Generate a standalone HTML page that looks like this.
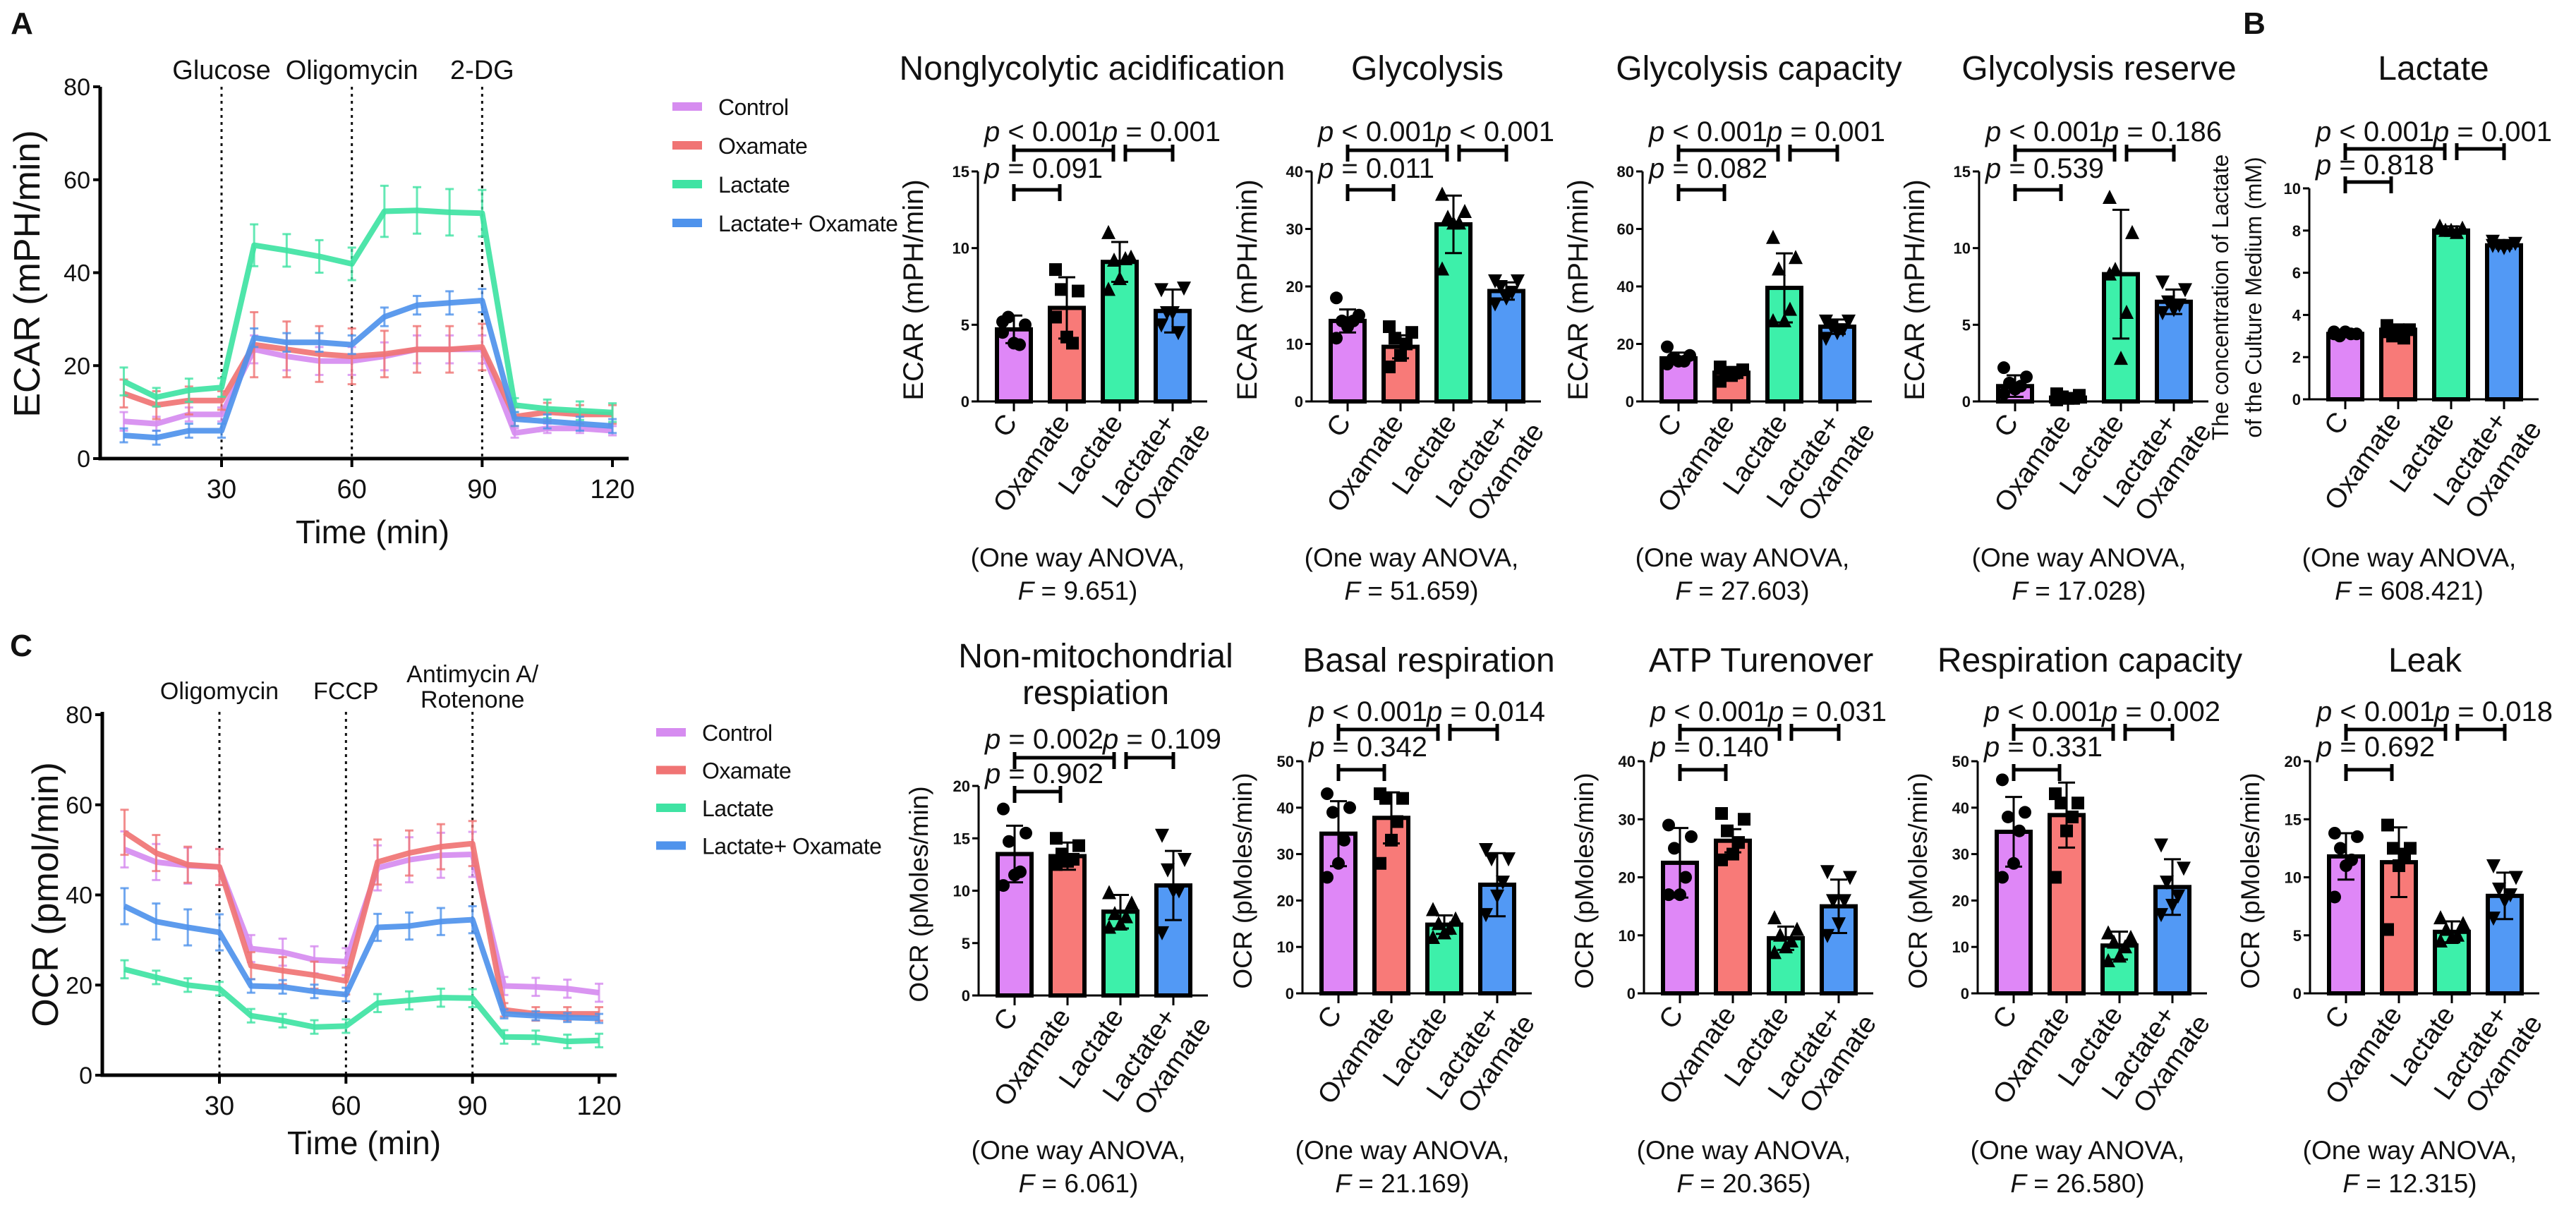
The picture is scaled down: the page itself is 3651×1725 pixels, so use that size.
<!DOCTYPE html>
<html><head><meta charset="utf-8">
<style>
html,body{margin:0;padding:0;background:#fff;}
svg{display:block;font-family:"Liberation Sans",Arial,sans-serif;}
</style></head>
<body>
<svg id="fig" width="3651" height="1725" viewBox="0 0 3651 1725" xmlns="http://www.w3.org/2000/svg"></svg>
<script>
// ---------- line-chart data ----------
const timePoints=[7.5,15,22.5,30,37.5,45,52.5,60,67.5,75,82.5,90,97.5,105,112.5,120];
const seriesNames=['Control','Oxamate','Lactate','Lactate+ Oxamate'];
const ecarControl=[8,7.5,9.5,9.5,23.5,22,21,21,22,23.5,23.5,23.5,5.5,6.5,6.5,6];
const ecarOxamate=[14,11.5,12.5,12.5,24.5,23.5,22.5,22,22.5,23.5,23.5,24,9,10,9.5,9.5];
const ecarLactate=[16.6,13.2,14.7,15.3,45.9,44.8,43.5,41.9,53.2,53.4,53,52.8,11.5,10.7,10.3,9.9];
const ecarLacOx=[5,4.5,6,6,26,25,25,24.5,30.5,33,33.5,34,8.5,8,7.5,7];
const ecarErrControl=[2,1.5,1.5,1.5,3,3,3,3,3,3,3,3,1,1,1,1];
const ecarErrOxamate=[3,3,3,2,7,6,6,6,5,5,5,5,2,2,2,2];
const ecarErrLactate=[3,2,2.5,2,4.5,3.5,3.5,3.5,5.5,5,5,5,1.5,2,2,2];
const ecarErrLacOx=[1.5,1.5,1.5,1.5,2,2,2,2,2,2,2.5,2.5,1.5,1.5,1.5,1.5];
const ocrControl=[50.1,47.3,46.5,46.2,28.1,27.3,25.6,25.2,46,47.8,48.8,49,19.8,19.6,19.2,18.3];
const ocrOxamate=[53.9,49.3,46.7,46.2,24.3,23.2,22.2,20.9,47.3,49.3,50.7,51.4,14.5,13.6,13.6,13.6];
const ocrLactate=[23.5,21.7,20,19.2,13.2,12.1,10.7,10.9,16,16.6,17.2,17.1,8.5,8.4,7.5,7.7];
const ocrLacOx=[37.5,34.1,32.8,31.7,19.8,19.6,18.6,17.9,32.8,33.1,34.1,34.5,13.6,13.2,12.8,12.6];
const ocrErrControl=[4,4,4,4,3,3,3,3,5,5,5,5,2,2,2,2];
const ocrErrOxamate=[5,4,4,4,3,3,3,3,5,5,5,5,1.5,1.5,1.5,1.5];
const ocrErrLactate=[2,1.5,1.5,1.5,1.5,1.5,1.5,1.5,2,2,2,2,1.5,1.5,1.5,1.5];
const ocrErrLacOx=[4,4,4,4,1.5,1.5,1.5,1.5,3,3,3,3,1,1,1,1];
const lineYTicks=[0,20,40,60,80];
const lineXTicks=[30,60,90,120];

// ---------- bar-chart data ----------
const categories=['C','Oxamate','Lactate','Lactate+|Oxamate'];
const ngMeans=[4.7,6.1,9.1,5.9], ngErr=[0.9,2.0,1.3,1.4];
const ngPts=[[5.2,5.0,5.5,3.7,3.8,4.5],[8.6,7.2,7.3,3.8,4.2,5.5],[11.0,9.4,9.2,9.3,8.0,7.3],[7.3,7.4,5.8,4.5,5.8,5.0]];
const glyMeans=[14,9.5,30.8,19.2], glyErr=[2,2,5,1.5];
const glyPts=[[18,15,14,14,13,11],[13,12,11,10,8,6],[36,33,32,31,31,23],[21,21,20,19,18,17]];
const capMeans=[15,10,39.5,26], capErr=[2,2,12,2.5];
const capPts=[[19,16,15,14,14,13],[12,11,10,10,9,7],[57,50,46,32,28,28],[28,28,26,25,24,22]];
const resMeans=[1.0,0.25,8.3,6.5], resErr=[0.7,0.2,4.2,0.8];
const resPts=[[2.2,1.6,1.2,1.0,0.8,0.5],[0.5,0.4,0.3,0.2,0.2,0.1],[13.3,11.0,8.6,5.8,2.8,8.3],[7.8,7.3,6.5,6.3,6.0,5.8]];
const lacMeans=[3.1,3.3,8.0,7.3], lacErr=[0.1,0.2,0.2,0.15];
const lacPts=[[3.2,3.1,3.0,3.1,3.2,3.1],[3.5,3.3,3.0,2.9,3.3,3.2],[8.2,8.1,8.0,7.9,8.0,8.1],[7.5,7.4,7.3,7.3,7.2,7.3]];
const nmMeans=[13.5,13.3,8.0,10.5], nmErr=[2.7,1.3,1.6,3.3];
const nmPts=[[17.8,15.5,14.7,11.8,11.5,10.5],[15,14.3,13.5,13,12.8,12.5],[9.8,8.8,7.8,7.5,6.8,6.5],[15.3,13,12,10,10,6]];
const basalMeans=[34.4,37.8,14.8,23.4], basalErr=[7,5.5,2,6.8];
const basalPts=[[43,40,39,33,28,25],[43,42,42,37,33,28],[18,16,15,14,13,12],[31,29,29,24,21,17]];
const atpMeans=[22.5,26.3,9.5,15], atpErr=[6,2,2,4.6];
const atpPts=[[29,27,25,20,17,17],[31,30,28,26,24,23],[13,11,10,9,8,7],[21,20,16,16,12,10]];
const rcMeans=[34.8,38.4,10.3,22.9], rcErr=[7.5,7,3,6];
const rcPts=[[46,39,38,35,28,25],[43,41,41,38,35,25],[13,12,11,10,8,7],[32,27,24,21,19,17]];
const leakMeans=[11.8,11.3,5.3,8.4], leakErr=[2,3,0.9,2];
const leakPts=[[13.8,13.5,12.5,11.5,11,8.3],[14.5,12.5,12.5,12,11,5.5],[6.5,6,5.5,5,4.8,4.5],[11,10,9,8.5,8,6.5]];

const ticks15=[0,5,10,15], ticks40=[0,10,20,30,40], ticks80=[0,20,40,60,80], ticks10=[0,2,4,6,8,10], ticks20=[0,5,10,15,20], ticks50=[0,10,20,30,40,50];

// ---------- drawing ----------
const NS='http://www.w3.org/2000/svg';
const svg=document.getElementById('fig');
const lineColors=['#d68cf0','#f07474','#3fe3a3','#4f93ec'];
const barColors=['#df87f7','#f87a78','#3df0aa','#5299f5'];
function mk(tag,attrs,parent){const e=document.createElementNS(NS,tag);for(const k in attrs)e.setAttribute(k,attrs[k]);(parent||svg).appendChild(e);return e;}
function txt(s,x,y,size,opts,parent){opts=opts||{};const e=mk('text',{x:x,y:y,'font-size':size,'text-anchor':opts.anchor||'middle',fill:'#111','font-weight':opts.bold?'bold':'normal'},parent);if(opts.transform)e.setAttribute('transform',opts.transform);e.textContent=s;return e;}

function panelLetter(s,x,y){const t=txt(s,x,y,44,{bold:true});

}
panelLetter('A',31,48);panelLetter('B',3195,48);panelLetter('C',30,930);

function lineChart(id,c,vals,errs){
  const g=mk('g',{});
  
  
  const px=t=>c.x30+(t-30)*c.sx, py=v=>c.y0-v*c.sy;
  c.events.forEach((ev,i)=>{
    const l=mk('line',{x1:px(ev.t),x2:px(ev.t),y1:c.yTop,y2:c.y0,stroke:'#111','stroke-width':3,'stroke-dasharray':'4 6'},g);
    
    
    ev.lines.forEach((s,j)=>{const t=txt(s,px(ev.t),ev.y+j*36,c.evSize,{},g);
      
      });
  });
  vals.forEach((arr,si)=>{
    const sg=mk('g',{},g);
    
    
    arr.forEach((v,i)=>{const x=px(timePoints[i]),e=errs[si][i];
      mk('line',{x1:x,x2:x,y1:py(v-e),y2:py(v+e),stroke:lineColors[si],'stroke-width':3,opacity:0.8},sg);
      mk('line',{x1:x-6,x2:x+6,y1:py(v+e),y2:py(v+e),stroke:lineColors[si],'stroke-width':3,opacity:0.8},sg);
      mk('line',{x1:x-6,x2:x+6,y1:py(v-e),y2:py(v-e),stroke:lineColors[si],'stroke-width':3,opacity:0.8},sg);});
    const d=arr.map((v,i)=>(i?'L':'M')+px(timePoints[i]).toFixed(1)+' '+py(v).toFixed(1)).join(' ');
    const p=mk('path',{d:d,fill:'none',stroke:lineColors[si],'stroke-width':8,'stroke-linejoin':'round',opacity:0.92},sg);
    
    
  });
  const ax=mk('path',{d:`M${c.xStart} ${c.yTop} V${c.y0} H${c.xEnd}`,fill:'none',stroke:'#000','stroke-width':5},g);
  
  
  lineYTicks.forEach(v=>{mk('line',{x1:c.xStart-10,x2:c.xStart,y1:py(v),y2:py(v),stroke:'#000','stroke-width':4},g);
    const t=txt(String(v),c.xStart-14,py(v)+12,34,{anchor:'end'},g);
    
    });
  lineXTicks.forEach(v=>{mk('line',{x1:px(v),x2:px(v),y1:c.y0,y2:c.y0+12,stroke:'#000','stroke-width':4},g);
    const t=txt(String(v),px(v),c.y0+56,38,{},g);
    
    });
  const xt=txt('Time (min)',c.xTitleX,c.xTitleY,46,{},g);
  
  
  const yt=txt(c.yTitle,0,0,52,{transform:`translate(${c.yTitleX},${c.yTitleY}) rotate(-90)`},g);
  
  
  seriesNames.forEach((n,i)=>{const y=c.legY+i*c.legStep;
    const lg=mk('g',{},g);
    
    
    mk('rect',{x:c.legX,y:y-6,width:42,height:12,fill:lineColors[i]},lg);
    const lt=txt(n,c.legX+65,y+12,32,{anchor:'start'},lg);
    lt.setAttribute('letter-spacing','-0.5');});
}
lineChart('ecar',{x30:314,sx:6.156,y0:650,sy:6.5875,yTop:123,xStart:142,xEnd:891,xTitleX:528,xTitleY:770,yTitle:'ECAR (mPH/min)',yTitleX:56,yTitleY:388,legX:953,legY:151,legStep:55,evSize:38,
  events:[{t:30,y:112,lines:['Glucose']},{t:60,y:112,lines:['Oligomycin']},{t:90,y:112,lines:['2-DG']}]},
  [ecarControl,ecarOxamate,ecarLactate,ecarLacOx],[ecarErrControl,ecarErrOxamate,ecarErrLactate,ecarErrLacOx]);
lineChart('ocr',{x30:311,sx:5.978,y0:1524,sy:6.3875,yTop:1009,xStart:145,xEnd:874,xTitleX:516,xTitleY:1636,yTitle:'OCR (pmol/min)',yTitleX:82,yTitleY:1268,legX:930,legY:1038,legStep:53.5,evSize:34,
  events:[{t:30,y:991,lines:['Oligomycin']},{t:60,y:991,lines:['FCCP']},{t:90,y:967,lines:['Antimycin A/','Rotenone']}]},
  [ocrControl,ocrOxamate,ocrLactate,ocrLacOx],[ocrErrControl,ocrErrOxamate,ocrErrLactate,ocrErrLacOx]);

function marker(shape,x,y,g){
  const s=9;let e;
  if(shape===0)e=mk('circle',{cx:x,cy:y,r:s},g);
  else if(shape===1)e=mk('rect',{x:x-s,y:y-s,width:2*s,height:2*s},g);
  else if(shape===2)e=mk('polygon',{points:`${x},${y-s-2} ${x-s-1},${y+s} ${x+s+1},${y+s}`},g);
  else e=mk('polygon',{points:`${x},${y+s+2} ${x-s-1},${y-s} ${x+s+1},${y-s}`},g);
  e.setAttribute('fill','#000');
}
const jit=[-16,16,-8,8,0,-16];
function barChart(id,c,means,errs,pts){
  const g=mk('g',{});
  
  
  const max=c.ticks[c.ticks.length-1];
  const py=v=>c.y0-(v/max)*(c.y0-c.yTop);
  const cx=i=>c.ax+51+i*75;
  c.title.forEach((s,j)=>{const t=txt(s,c.titleX,c.titleY+j*52,48,{},g);
    
    });
  means.forEach((m,i)=>{
    const b=mk('rect',{x:cx(i)-24,y:py(m),width:48,height:c.y0-py(m),fill:barColors[i],stroke:'#000','stroke-width':6},g);
    
    
  });
  pts.forEach((arr,i)=>arr.forEach((v,k)=>marker(i,cx(i)+jit[k],py(v),g)));
  means.forEach((m,i)=>{const x=cx(i),e=errs[i];
    mk('line',{x1:x,x2:x,y1:py(m+e),y2:py(Math.max(0,m-e)),stroke:'#000','stroke-width':3},g);
    mk('line',{x1:x-12,x2:x+12,y1:py(m+e),y2:py(m+e),stroke:'#000','stroke-width':3},g);
    mk('line',{x1:x-12,x2:x+12,y1:py(Math.max(0,m-e)),y2:py(Math.max(0,m-e)),stroke:'#000','stroke-width':3},g);});
  const ax=mk('path',{d:`M${c.ax} ${c.yTop} V${c.y0} H${c.ax+325}`,fill:'none',stroke:'#000','stroke-width':3},g);
  
  
  c.ticks.forEach(v=>{mk('line',{x1:c.ax-9,x2:c.ax,y1:py(v),y2:py(v),stroke:'#000','stroke-width':3},g);
    const t=txt(String(v),c.ax-12,py(v)+8,22,{anchor:'end',bold:true},g);
    
    });
  categories.forEach((s,i)=>{const x=cx(i);
    mk('line',{x1:x,x2:x,y1:c.y0,y2:c.y0+14,stroke:'#000','stroke-width':3},g);
    const parts=s.split('|');
    const t=mk('text',{transform:`translate(${x+6},${c.y0+30}) rotate(-55)`,'font-size':39,'text-anchor':'end',fill:'#111'},g);
    
    
    parts.forEach((p,j)=>{const ts=mk('tspan',{x:j?18:0,dy:j?'47':'0'},t);ts.textContent=p;});
  });
  c.ylabel.forEach((s,j)=>{const t=txt(s,0,0,c.ylSize,{transform:`translate(${c.ax-c.ylOff+j*47},${(c.y0+c.yTop)/2+5}) rotate(-90)`},g);
    
    });
  const pl=(s,x,y)=>{const t=mk('text',{x:x,y:y,'font-size':40,fill:'#111'},g);
    const a=mk('tspan',{'font-style':'italic'},t);a.textContent='p';
    const b=mk('tspan',{},t);b.textContent=' '+s;
    
    };
  pl(c.p[0],c.ax+9,c.pY[0]+14);
  pl(c.p[1],cx(2)-25,c.pY[0]+14);
  pl(c.p[2],c.ax+9,c.pY[2]+14);
  const br=(x1,x2,y)=>{const b=mk('path',{d:`M${x1} ${y} H${x2} M${x1} ${y-8} V${y+16} M${x2} ${y-8} V${y+16}`,stroke:'#000','stroke-width':5,fill:'none'},g);
    
    };
  br(cx(0),cx(2)-9,c.pY[1]);
  br(cx(2)+8,cx(3),c.pY[1]);
  br(cx(0),cx(1)-10,c.pY[3]);
  const mid=(cx(0)+cx(3))/2-22;
  const a1=txt('(One way ANOVA,',mid,c.anY,37,{},g);
  
  
  const a2=mk('text',{x:mid,y:c.anY+47,'font-size':37,'text-anchor':'middle',fill:'#111'},g);
  
  
  const f=mk('tspan',{'font-style':'italic'},a2);f.textContent='F';
  const f2=mk('tspan',{},a2);f2.textContent=' = '+c.F+')';
}
const topCfg={y0:569,yTop:243,titleY:113,pY:[186,213,238,269],anY:803,ylSize:40,ylOff:78};
const botCfg={y0:1408,yTop:1079,titleY:952,pY:[1008,1034,1058,1091],anY:1643,ylSize:37,ylOff:72};
const ecarLabel=['ECAR (mPH/min)'], ocrLabel=['OCR (pMoles/min)'];
barChart('nonglycolytic',Object.assign({},topCfg,{ax:1386,ticks:ticks15,title:['Nonglycolytic acidification'],titleX:1548,ylabel:ecarLabel,p:['< 0.001','= 0.001','= 0.091'],F:'9.651'}),ngMeans,ngErr,ngPts);
barChart('glycolysis',Object.assign({},topCfg,{ax:1859,ticks:ticks40,title:['Glycolysis'],titleX:2023,ylabel:ecarLabel,p:['< 0.001','< 0.001','= 0.011'],F:'51.659'}),glyMeans,glyErr,glyPts);
barChart('glycolysis-capacity',Object.assign({},topCfg,{ax:2328,ticks:ticks80,title:['Glycolysis capacity'],titleX:2493,ylabel:ecarLabel,p:['< 0.001','= 0.001','= 0.082'],F:'27.603'}),capMeans,capErr,capPts);
barChart('glycolysis-reserve',Object.assign({},topCfg,{ax:2805,ticks:ticks15,title:['Glycolysis reserve'],titleX:2975,ylabel:ecarLabel,p:['< 0.001','= 0.186','= 0.539'],F:'17.028'}),resMeans,resErr,resPts);
barChart('lactate',Object.assign({},topCfg,{ax:3273,yTop:267,y0:566,ticks:ticks10,title:['Lactate'],titleX:3449,ylabel:['The concentration of Lactate','of the Culture Medium (mM)'],ylSize:32,ylOff:115,pY:[186,211,233,258],p:['< 0.001','= 0.001','= 0.818'],F:'608.421'}),lacMeans,lacErr,lacPts);
barChart('non-mitochondrial',Object.assign({},botCfg,{ax:1387,y0:1411,yTop:1114,ticks:ticks20,title:['Non-mitochondrial','respiation'],titleX:1553,titleY:946,pY:[1047,1074,1096,1122],ylabel:ocrLabel,p:['= 0.002','= 0.109','= 0.902'],F:'6.061'}),nmMeans,nmErr,nmPts);
barChart('basal-respiration',Object.assign({},botCfg,{ax:1846,ticks:ticks50,title:['Basal respiration'],titleX:2025,ylabel:ocrLabel,p:['< 0.001','= 0.014','= 0.342'],F:'21.169'}),basalMeans,basalErr,basalPts);
barChart('atp-turnover',Object.assign({},botCfg,{ax:2330,ticks:ticks40,title:['ATP Turenover'],titleX:2496,ylabel:ocrLabel,p:['< 0.001','= 0.031','= 0.140'],F:'20.365'}),atpMeans,atpErr,atpPts);
barChart('respiration-capacity',Object.assign({},botCfg,{ax:2803,ticks:ticks50,title:['Respiration capacity'],titleX:2962,ylabel:ocrLabel,p:['< 0.001','= 0.002','= 0.331'],F:'26.580'}),rcMeans,rcErr,rcPts);
barChart('leak',Object.assign({},botCfg,{ax:3274,ticks:ticks20,title:['Leak'],titleX:3437,ylabel:ocrLabel,p:['< 0.001','= 0.018','= 0.692'],F:'12.315'}),leakMeans,leakErr,leakPts);
</script>
</body></html>
